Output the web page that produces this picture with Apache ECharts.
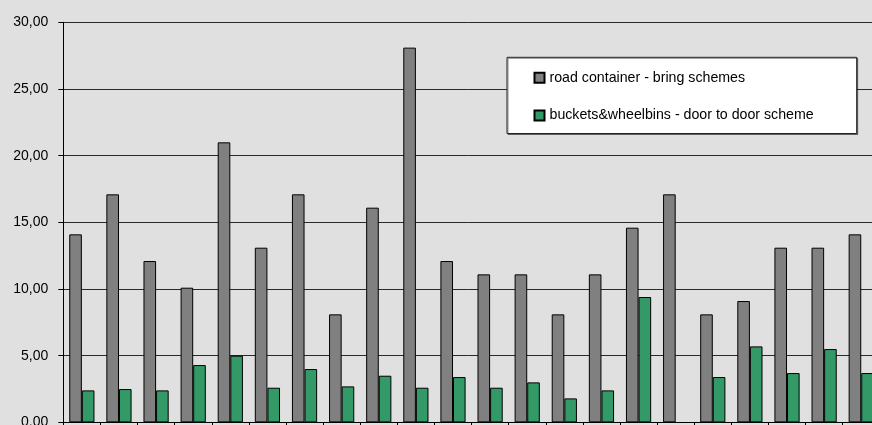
<!DOCTYPE html>
<html>
<head>
<meta charset="utf-8">
<style>
  html, body { margin: 0; padding: 0; background: #e0e0e0; }
  #chart { width: 872px; height: 425px; }
</style>
<script src="https://cdn.jsdelivr.net/npm/echarts@6/dist/echarts.min.js"></script>
</head>
<body>
<div id="chart"></div>
<script>
// Municipalities / sampling points along the category axis (labels sit below the visible area)
const categories = ['1','2','3','4','5','6','7','8','9','10','11','12','13','14','15','16','17','18','19','20','21','22'];

// Values per collection scheme
const roadContainer = [14.1, 17.1, 12.1, 10.1, 21.0, 13.1, 17.1, 8.1, 16.1, 28.1, 12.1, 11.1, 11.1, 8.1, 11.1, 14.6, 17.1, 8.1, 9.1, 13.1, 13.1, 14.1];
const doorToDoor    = [2.4, 2.5, 2.4, 4.3, 5.0, 2.6, 4.0, 2.7, 3.5, 2.6, 3.4, 2.6, 3.0, 1.8, 2.4, 9.4, null, 3.4, 5.7, 3.7, 5.5, 3.7];

const seriesNames = ['road container - bring schemes', 'buckets&wheelbins - door to door scheme'];
const yTicks = { min: 0, max: 30, interval: 5 };

const font = 'Liberation Sans, Arial, sans-serif';
const chart = echarts.init(document.getElementById('chart'), null, { renderer: 'canvas' });

chart.setOption({
  animation: false,
  backgroundColor: '#e0e0e0',
  textStyle: { fontFamily: font },
  grid: {
    left: 63.3, top: 22.3, right: -7.8, bottom: 2.6,
    containLabel: false,
    outerBoundsMode: 'none'
  },
  legend: {
    orient: 'vertical',
    left: 507,
    top: 57.3,
    backgroundColor: '#ffffff',
    borderColor: '#222222',
    borderWidth: 1,
    shadowColor: 'rgba(0,0,0,0.45)',
    shadowOffsetX: 1,
    shadowOffsetY: 1,
    padding: [12.5, 43, 10, 26.5],
    itemGap: 21.7,
    itemWidth: 10,
    itemHeight: 10,
    icon: 'rect',
    textStyle: { fontFamily: font, fontSize: 14.2, lineHeight: 16, color: '#000' },
    data: seriesNames
  },
  xAxis: {
    type: 'category',
    data: categories,
    axisLine: { lineStyle: { color: '#000', width: 1 } },
    axisTick: { show: true, alignWithLabel: false, length: 5, lineStyle: { color: '#000' } },
    axisLabel: { show: false },
    splitLine: { show: false }
  },
  yAxis: {
    type: 'value',
    min: yTicks.min,
    max: yTicks.max,
    interval: yTicks.interval,
    axisLine: { show: true, lineStyle: { color: '#000', width: 1 } },
    axisTick: { show: true, length: 5, lineStyle: { color: '#000' } },
    axisLabel: {
      margin: 15,
      color: '#000',
      fontFamily: font,
      fontSize: 14,
      formatter: v => v.toFixed(2).replace('.', ',')
    },
    splitLine: { show: true, lineStyle: { color: '#2a2a2a', width: 1 } }
  },
  series: [
    {
      name: seriesNames[0],
      type: 'bar',
      data: roadContainer,
      barWidth: 12.6,
      barGap: '0%',
      itemStyle: { color: '#808080', borderColor: '#000', borderWidth: 1 }
    },
    {
      name: seriesNames[1],
      type: 'bar',
      data: doorToDoor,
      barWidth: 12.6,
      itemStyle: { color: '#339966', borderColor: '#000', borderWidth: 1 }
    }
  ]
});
</script>
</body>
</html>
